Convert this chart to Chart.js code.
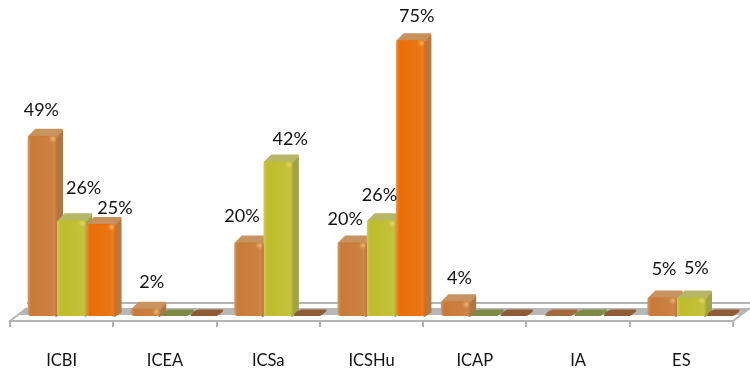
<!DOCTYPE html>
<html><head><meta charset="utf-8">
<style>html,body{margin:0;padding:0;background:#fff}#w{width:750px;height:369px}</style>
<script src="https://cdn.jsdelivr.net/npm/chart.js@4"></script></head>
<body><div id="w"><canvas id="c" width="750" height="369"></canvas></div>
<script>
const categories = ["ICBI","ICEA","ICSa","ICSHu","ICAP","IA","ES"];
const seriesA = [49,2,20,20,4,0,5];
const seriesB = [26,0,42,26,0,0,5];
const seriesC = [25,0,0,75,0,0,0];

const looks = [
 {front:"#C97A38",side:"#AE7645",top:"#C9935F",flat:"#A56A3A"},
 {front:"#BFBD2C",side:"#A0A24A",top:"#B6B868",flat:"#7F8A45"},
 {front:"#E96E08",side:"#B87840",top:"#C8905C",flat:"#8F5A34"}
];
// hand-placed label nudges, [dx, dy] from the top centre of the bar front, by series then category
const labelNudges = [
 [[-1,-26],[6,-26],[-7,-26],[-7,-23],[4,-23],null,[2,-28]],
 [[12,-32],null,[12,-22],[-2,-25],null,null,[5,-29]],
 [[14,-16],null,null,[6,-24],null,null,null]
];
const shiftX = 10, shiftY = -5, depthX = 6, depthY = 7;

function poly(c, pts, fill){
  c.beginPath(); pts.forEach((p,i)=> i?c.lineTo(p[0],p[1]):c.moveTo(p[0],p[1])); c.closePath();
  c.fillStyle = fill; c.fill();
}
const solid3d = {
  id:"solid3d",
  beforeDatasetsDraw(chart){
    const c = chart.ctx, b = chart.chartArea.bottom, L = chart.chartArea.left, R = chart.chartArea.right;
    c.save();
    poly(c,[[L+17,b-13],[R+17,b-13],[R+8,b-6],[L+8,b-6]],"#B7B7B7");
    c.strokeStyle="#B4B4B4"; c.lineWidth=2;
    c.beginPath(); c.moveTo(L+17,b-18); c.lineTo(750,b-18); c.stroke();
    c.beginPath(); c.moveTo(L,b); c.lineTo(L+17,b-13); c.moveTo(R,b); c.lineTo(R+17,b-13); c.stroke();
    c.translate(shiftX,shiftY);
    chart.data.datasets.forEach((ds,s)=>{
      const look = looks[s];
      chart.getDatasetMeta(s).data.forEach((el,i)=>{
        const l = el.x-el.width/2, r = el.x+el.width/2, t = el.y, v = el.base;
        if (ds.data[i]===0){
          c.beginPath();
          c.moveTo(l+1,v);
          c.quadraticCurveTo(l+2,v-5,l+9,v-depthY+0.5);
          c.lineTo(r+depthX-2,v-depthY+0.5);
          c.quadraticCurveTo(r+depthX,v-5,r-2,v);
          c.closePath();
          c.fillStyle = look.flat; c.fill();
          return;
        }
        c.lineJoin="round"; c.lineWidth=2;
        c.strokeStyle=look.side;
        poly(c,[[r-1,t+1],[r+depthX-1,t-depthY+2],[r+depthX-1,v-depthY+3],[r-1,v]],look.side);
        c.stroke();
        c.strokeStyle=look.top;
        poly(c,[[l+1,t+1],[l+depthX+2,t-depthY+1],[r+depthX-1,t-depthY+1],[r-1,t+1]],look.top);
        c.stroke();
      });
    });
    c.restore();
  },
  beforeDatasetDraw(chart){
    chart.ctx.save(); chart.ctx.translate(shiftX,shiftY);
  },
  afterDatasetDraw(chart,args){
    const c = chart.ctx;
    args.meta.data.forEach((el,i)=>{
      if (chart.data.datasets[args.index].data[i]===0) return;
      const l = el.x-el.width/2, r = el.x+el.width/2, t = el.y, v = el.base;
      const g = c.createLinearGradient(l,0,r,0);
      g.addColorStop(0,"rgba(255,255,255,0.22)");
      g.addColorStop(0.12,"rgba(255,255,255,0)");
      g.addColorStop(0.8,"rgba(255,255,255,0.05)");
      g.addColorStop(0.9,"rgba(255,255,255,0.1)");
      g.addColorStop(1,"rgba(120,70,20,0.1)");
      c.fillStyle=g; c.fillRect(l,t+1,r-l,v-t-1);
      const h = c.createRadialGradient(r-4,t+3,0,r-4,t+3,4);
      h.addColorStop(0,"rgba(255,225,150,0.55)");
      h.addColorStop(1,"rgba(255,225,150,0)");
      c.fillStyle=h; c.fillRect(r-8,t,8,8);
    });
    c.restore();
  },
  afterDatasetsDraw(chart){
    const c = chart.ctx;
    c.save();
    c.font = "18px Lato"; c.fillStyle="#111"; c.textAlign="center"; c.textBaseline="middle";
    chart.data.datasets.forEach((ds,s)=>{
      chart.getDatasetMeta(s).data.forEach((el,i)=>{
        const n = labelNudges[s][i];
        if (!n) return;
        c.fillText(ds.data[i]+"%", el.x+shiftX+n[0], el.y+shiftY+n[1]);
      });
    });
    c.restore();
  }
};
const mk = (label,data,s)=>({label,data,backgroundColor:looks[s].front,borderRadius:3,borderSkipped:false,
  barPercentage:1,categoryPercentage:0.85,clip:false});
new Chart(document.getElementById("c"),{
  type:"bar",
  data:{labels:categories,datasets:[mk("A",seriesA,0),mk("B",seriesB,1),mk("C",seriesC,2)]},
  options:{
    responsive:false,animation:false,
    layout:{padding:{left:10,right:17,top:1,bottom:0}},
    plugins:{legend:{display:false},tooltip:{enabled:false}},
    scales:{
      x:{
        afterFit(s){s.height=48;},
        grid:{drawOnChartArea:false,color:"#B0B0B0",lineWidth:2,tickLength:6},
        border:{color:"#B4B4B4",width:2},
        ticks:{color:"#111",font:{family:"Lato",size:16.5},padding:24,maxRotation:0}
      },
      y:{display:false,min:0,max:87}
    }
  },
  plugins:[solid3d]
});
</script></body></html>
